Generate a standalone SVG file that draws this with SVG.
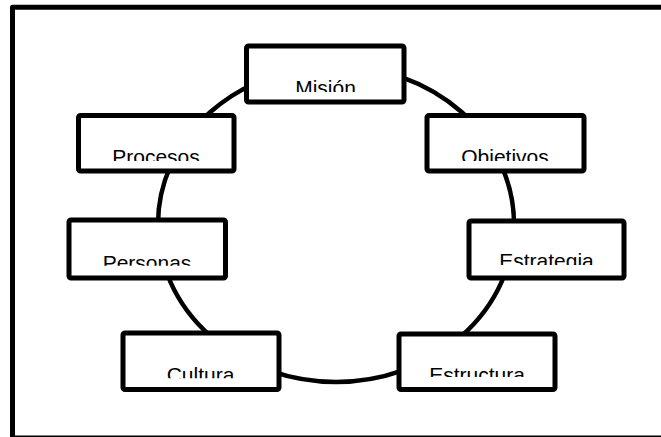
<svg xmlns="http://www.w3.org/2000/svg" width="661" height="437" viewBox="0 0 661 437">
<style>
.box{fill:#fff;stroke:#000;stroke-width:5;stroke-linejoin:round}
.lbl{font-family:"Liberation Sans",Arial,sans-serif;font-size:21px;fill:#000;text-anchor:middle}
.ring{fill:none;stroke:#000;stroke-width:4.5}
</style>
<defs>
<clipPath id="c1"><rect x="246" y="46" width="158" height="46"/></clipPath>
<clipPath id="c2"><rect x="78" y="115" width="156" height="46"/></clipPath>
<clipPath id="c3"><rect x="427" y="115" width="157" height="46"/></clipPath>
<clipPath id="c4"><rect x="69" y="220" width="156" height="45.7"/></clipPath>
<clipPath id="c5"><rect x="469" y="221" width="155" height="44"/></clipPath>
<clipPath id="c6"><rect x="123" y="333" width="156" height="45.3"/></clipPath>
<clipPath id="c7"><rect x="399" y="334" width="156" height="43"/></clipPath>
</defs>
<rect width="661" height="437" fill="#fff"/>
<g id="frame" fill="none" stroke="#000">
<path d="M663,7.2 H12.5 V440" stroke-width="5" stroke-linejoin="round"/>
<line x1="12.5" y1="436.3" x2="661" y2="436.3" stroke-width="1.5"/>
</g>
<g id="connectors">
<ellipse class="ring" cx="336" cy="224" rx="178" ry="158"/>
</g>
<g id="mision">
<rect class="box" x="246.5" y="46" width="157.5" height="56" rx="2"/>
<text class="lbl" x="325.5" y="95" clip-path="url(#c1)">Misión</text>
</g>
<g id="procesos">
<rect class="box" x="78.5" y="115.5" width="155.5" height="55.5" rx="2"/>
<text class="lbl" x="156" y="164.3" clip-path="url(#c2)">Procesos</text>
</g>
<g id="objetivos">
<rect class="box" x="427" y="115.5" width="157" height="55.5" rx="2"/>
<text class="lbl" x="505" y="164.3" clip-path="url(#c3)">Objetivos</text>
</g>
<g id="personas">
<rect class="box" x="69" y="220" width="156.5" height="58" rx="2"/>
<text class="lbl" x="147" y="270" clip-path="url(#c4)">Personas</text>
</g>
<g id="estrategia">
<rect class="box" x="469" y="221" width="155" height="57" rx="2"/>
<text class="lbl" x="546.5" y="268.3" clip-path="url(#c5)">Estrategia</text>
</g>
<g id="cultura">
<rect class="box" x="123" y="333" width="156" height="56.5" rx="2"/>
<text class="lbl" x="200.5" y="381.7" clip-path="url(#c6)">Cultura</text>
</g>
<g id="estructura">
<rect class="box" x="399" y="334" width="156" height="55.5" rx="2"/>
<text class="lbl" x="477" y="381.7" clip-path="url(#c7)">Estructura</text>
</g>
</svg>
